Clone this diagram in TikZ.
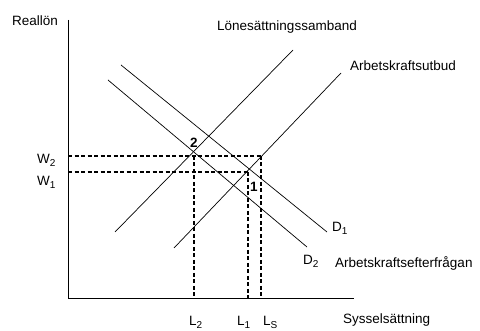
\documentclass[tikz,border=0pt]{standalone}
\usepackage{fontspec}
\setmainfont{Liberation Sans}
\newcommand{\sbs}[1]{\raisebox{-0.4ex}{\fontsize{10}{10}\selectfont #1}}
\begin{document}
\begin{tikzpicture}[x=1pt,y=-1pt,
  lbl/.style={inner sep=0pt,anchor=west,font=\fontsize{13.5}{15}\selectfont},
  num/.style={inner sep=0pt,font=\fontsize{13.5}{15}\selectfont\bfseries},
  curve/.style={line width=0.7pt},
  axisline/.style={line width=0.9pt},
  guide/.style={line width=1.3pt,dash pattern=on 4pt off 2.5pt}]
\useasboundingbox (0,0) rectangle (480,331);
% axes
\coordinate (O) at (68,298);
\coordinate (Ytop) at (68,20);
\coordinate (Xend) at (354,298);
\draw[axisline] (Ytop) -- (O) -- (Xend);
% curves
\coordinate (ws1) at (115,232); \coordinate (ws2) at (293,50);
\coordinate (s1) at (174,248);  \coordinate (s2) at (341,73);
\coordinate (d1a) at (121,65);  \coordinate (d1b) at (327,232);
\coordinate (d2a) at (108,80);  \coordinate (d2b) at (307,247);
\draw[curve] (ws1) -- (ws2);
\draw[curve] (s1) -- (s2);
\draw[curve] (d1a) -- (d1b);
\draw[curve] (d2a) -- (d2b);
% guide points
\coordinate (yW2) at (68,156); \coordinate (yW1) at (68,172);
\coordinate (P2) at (194,156); \coordinate (P1) at (248,172); \coordinate (PS) at (261,156);
\coordinate (xL2) at (194,298); \coordinate (xL1) at (248,298); \coordinate (xLS) at (261,298);
\draw[guide] (yW2) -- (PS);
\draw[guide] (yW1) -- (P1);
\draw[guide] (P2) -- (xL2);
\draw[guide] (P1) -- (xL1);
\draw[guide] (PS) -- (xLS);
% labels
\node[lbl] (yl) at (12,21) {Reallön};
\node[lbl] (wsl) at (217,27) {Lönesättningssamband};
\node[lbl] (sl) at (350,66) {Arbetskraftsutbud};
\node[lbl] (d1l) at (332,228) {D\sbs{1}};
\node[lbl] (d2l) at (303,261) {D\sbs{2}};
\node[lbl] (dl) at (335,263) {Arbetskraftsefterfrågan};
\node[lbl] (xl) at (343,320) {Sysselsättning};
\node[lbl] (l2l) at (189,322) {L\sbs{2}};
\node[lbl] (l1l) at (237,322) {L\sbs{1}};
\node[lbl] (lsl) at (263,322) {L\sbs{S}};
\node[lbl] (w2l) at (37,160) {W\sbs{2}};
\node[lbl] (w1l) at (37,182) {W\sbs{1}};
\node[num] (n2) at (194,143) {2};
\node[num] (n1) at (254,187) {1};
\end{tikzpicture}
\end{document}
